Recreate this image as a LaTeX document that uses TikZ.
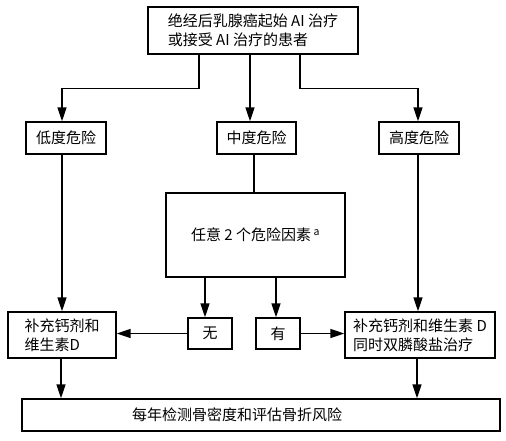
\documentclass[tikz,border=0pt]{standalone}
\usepackage{fontspec}
\setmainfont{Noto Sans CJK SC}
\usetikzlibrary{arrows.meta}
\begin{document}
\begin{tikzpicture}[x=1pt,y=-1pt,
  box/.style={draw,line width=1.4pt,inner sep=0pt,font=\fontsize{15}{19}\selectfont},
  arr/.style={line width=1.5pt,-{Triangle[length=14pt,width=9pt]}},
  ln/.style={line width=1.5pt}]
\useasboundingbox (0,0) rectangle (506,440);
\node[box,minimum width=210pt,minimum height=47pt,align=left] (top) at (253,30.5) {绝经后乳腺癌起始 AI 治疗\\或接受 AI 治疗的患者};
\node[box,minimum width=80pt,minimum height=32pt] (low) at (66,138) {低度危险};
\node[box,minimum width=79pt,minimum height=32pt] (mid) at (256.5,138) {中度危险};
\node[box,minimum width=80pt,minimum height=32pt] (high) at (419,138) {高度危险};
\node[box,minimum width=179pt,minimum height=84pt] (rf) at (255.5,235) {任意 2 个危险因素\,\textsuperscript{a}};
\node[box,minimum width=108pt,minimum height=46pt,align=left] (lt) at (62,335) {补充钙剂和\\维生素D};
\node[box,minimum width=44pt,minimum height=31pt] (wu) at (210,333.5) {无};
\node[box,minimum width=44pt,minimum height=31pt] (you) at (278,333.5) {有};
\node[box,minimum width=150pt,minimum height=46pt,align=left] (rt) at (420,335) {补充钙剂和维生素 D\\同时双膦酸盐治疗};
\node[box,minimum width=478pt,minimum height=32pt] (bot) at (261,415) {每年检测骨密度和评估骨折风险\hspace*{48pt}};
\draw[arr] ([xshift=-54pt]top.south) -- ++(0,34) -| ([xshift=-4pt]low.north);
\draw[arr] ([xshift=-3pt]top.south) -- ([xshift=-6.5pt]mid.north);
\draw[arr] ([xshift=47pt]top.south) -- ++(0,34) -| ([xshift=-1pt]high.north);
\draw[arr] ([xshift=-4pt]low.south) -- (lt.north -| 62,0);
\draw[ln] ([xshift=-2.5pt]mid.south) -- (rf.north -| 254,0);
\draw[arr] ([xshift=-1pt]high.south) -- (rt.north -| 418,0);
\draw[arr] (rf.south -| 205,0) -- (wu.north -| 205,0);
\draw[arr] (rf.south -| 276,0) -- (you.north -| 276,0);
\draw[arr] (wu.west) -- (lt.east |- wu.west);
\draw[arr] (you.east) -- (rt.west |- you.east);
\draw[arr] ([xshift=-1pt]lt.south) -- (bot.north -| 61,0);
\draw[arr] ([xshift=-3pt]rt.south) -- (bot.north -| 417,0);
\end{tikzpicture}
\end{document}
